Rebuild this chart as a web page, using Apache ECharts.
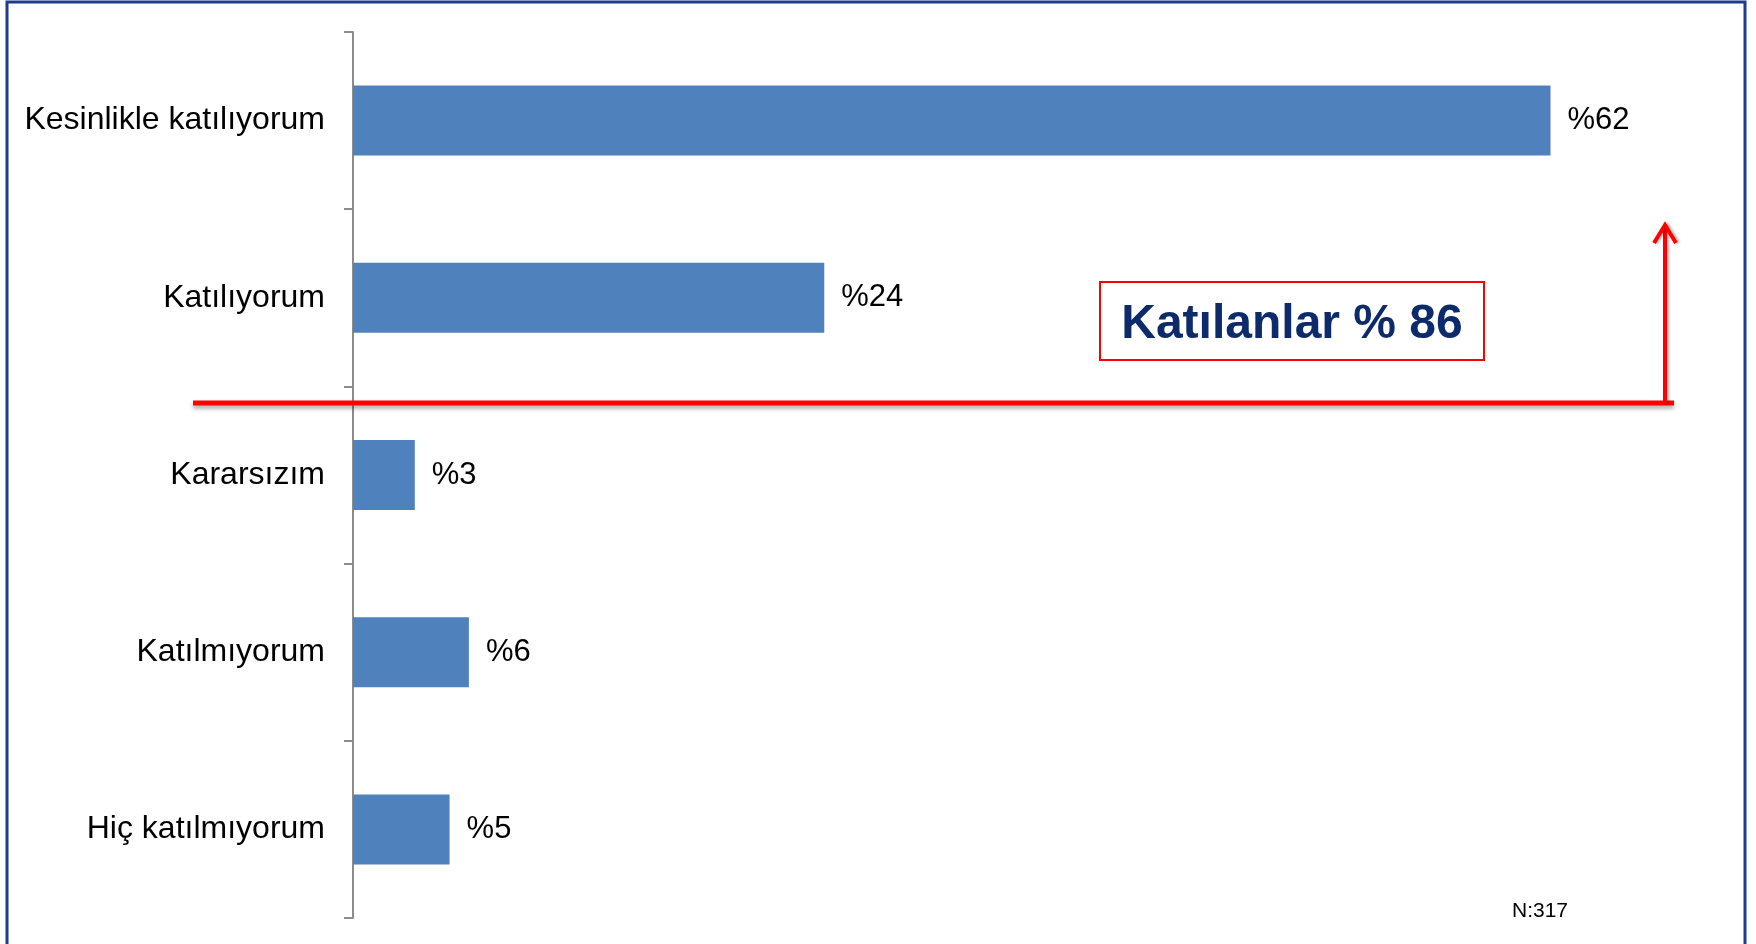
<!DOCTYPE html>
<html>
<head>
<meta charset="utf-8">
<style>
  html, body { margin: 0; padding: 0; background: #fff; }
  #chart { width: 1756px; height: 944px; }
</style>
<script src="https://cdn.jsdelivr.net/npm/echarts@6/dist/echarts.min.js"></script>
</head>
<body>
<div id="chart"></div>
<script>
// survey answers, top to bottom
const categories = [
  "Kesinlikle katılıyorum",
  "Katılıyorum",
  "Kararsızım",
  "Katılmıyorum",
  "Hiç katılmıyorum",
];
const percents = [62, 24.4, 3.2, 6, 5];
const shownLabels = ["%62", "%24", "%3", "%6", "%5"];

const barColor = "#4f81bd";
const red = "#ff0000";
const font = "'Liberation Sans', Arial, sans-serif";

const chart = echarts.init(document.getElementById("chart"));

const option = {
  animation: false,
  grid: {
    left: 353,
    top: 32,
    width: 1352, // 70% of scale
    height: 886,
  },
  xAxis: {
    type: "value",
    min: 0,
    max: 70,
    show: false,
  },
  yAxis: {
    type: "category",
    data: categories,
    inverse: true,
    axisLine: { show: true, lineStyle: { color: "#8c8c8c", width: 2 } },
    axisTick: { show: true, length: 9, lineStyle: { color: "#8c8c8c", width: 2 } },
    axisLabel: {
      color: "#000",
      fontSize: 32,
      fontFamily: font,
      margin: 28,
      padding: [4, 0, 0, 0],
    },
    splitLine: { show: false },
  },
  series: [
    {
      type: "bar",
      data: percents,
      barWidth: 70,
      itemStyle: { color: barColor },
      label: {
        show: true,
        position: "right",
        distance: 17,
        color: "#000",
        fontSize: 31,
        fontFamily: font,
        padding: [5, 0, 0, 0],
        formatter: (p) => shownLabels[p.dataIndex],
      },
    },
  ],
  graphic: [
    // slide frame
    {
      type: "rect",
      shape: { x: 7, y: 2, width: 1738, height: 960 },
      style: { fill: null, stroke: "#1f3c88", lineWidth: 3 },
      silent: true,
    },
    // red divider line
    {
      type: "line",
      shape: { x1: 193, y1: 403, x2: 1674, y2: 403 },
      style: {
        stroke: red,
        lineWidth: 5,
        shadowColor: "rgba(0,0,0,0.35)",
        shadowBlur: 4,
        shadowOffsetY: 3,
      },
      z: 10,
    },
    // arrow shaft
    {
      type: "line",
      shape: { x1: 1665, y1: 403, x2: 1665, y2: 226 },
      style: {
        stroke: red,
        lineWidth: 4,
        shadowColor: "rgba(0,0,0,0.3)",
        shadowBlur: 3,
        shadowOffsetX: 2,
      },
      z: 10,
    },
    // arrow head
    {
      type: "polyline",
      shape: { points: [[1654, 243], [1665, 225], [1676, 243]] },
      style: {
        stroke: red,
        lineWidth: 4,
        fill: null,
        lineJoin: "miter",
        shadowColor: "rgba(0,0,0,0.3)",
        shadowBlur: 3,
        shadowOffsetX: 2,
      },
      z: 10,
    },
    // annotation box
    {
      type: "rect",
      shape: { x: 1100, y: 282, width: 384, height: 78 },
      style: { fill: "#fff", stroke: red, lineWidth: 2 },
      z: 10,
    },
    {
      type: "text",
      x: 1292,
      y: 325,
      style: {
        text: "Katılanlar % 86",
        fill: "#0d2a6b",
        font: "bold 48px " + font,
        align: "center",
        verticalAlign: "middle",
      },
      z: 11,
    },
    {
      type: "text",
      x: 1540,
      y: 911,
      style: {
        text: "N:317",
        fill: "#000",
        font: "21px " + font,
        align: "center",
        verticalAlign: "middle",
      },
    },
  ],
};

chart.setOption(option);
</script>
</body>
</html>
